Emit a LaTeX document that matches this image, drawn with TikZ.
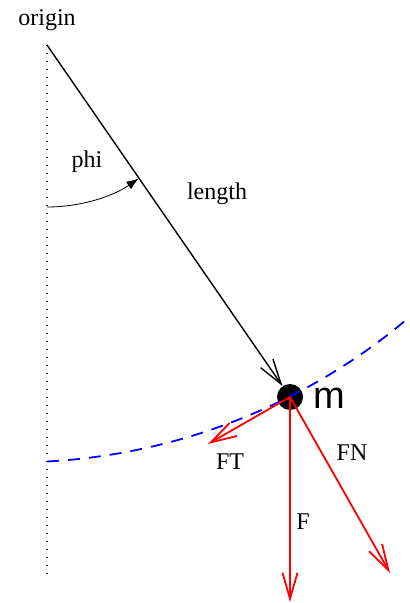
\documentclass[tikz,border=0pt]{standalone}
\usepackage{fontspec}
\setmainfont{Liberation Serif}
\newfontfamily\massfont{Liberation Sans}
\usepackage{tikz}
\usetikzlibrary{arrows.meta}

\begin{document}
\begin{tikzpicture}[
  x=0.5pt, y=-0.5pt,
  font=\fontsize{12}{14}\selectfont,
  label/.style={inner sep=0pt},
  rod/.style={-{Straight Barb[length=12.5pt, width=7.5pt]}, line width=0.7pt},
  force/.style={-{Straight Barb[length=13pt, width=7.5pt]}, red, line width=0.9pt},
  path/.style={blue, line width=0.9pt, dash pattern=on 6pt off 4.5pt},
  vertical/.style={line width=0.6pt, dash pattern=on 0.6pt off 3.4pt}
]
\useasboundingbox (0,0) rectangle (409,603);
% pivot and bob
\coordinate (o) at (47,45);
\coordinate (bottom) at (47,580);
\node[label] (origin) at (47,20) {origin};
\node[circle, fill, inner sep=0pt, minimum size=13pt] (m) at (290,397) {};
\node[label, font=\fontsize{19}{22}\massfont] (mlabel) at (329,398) {m};

\draw[vertical] (o) -- (bottom);
\draw[rod] (o) -- (m);
\node[label] (length) at (217,194) {length};

% angle
\node[label] (phi) at (87,162) {phi};
\draw[-{Latex[length=6pt, width=4.5pt]}, line width=0.4pt] (o) ++(0,162) arc[start angle=90, end angle=55.6, radius=162];

% path of the bob
\draw[path] (47,461.5) arc[start angle=86.9, end angle=49.8, radius=611];

% forces
\coordinate (ft) at (208,444);
\coordinate (fn) at (390,573);
\coordinate (f) at (290,602);
\draw[force] (m.center) -- (ft);
\draw[force] (m.center) -- (fn);
\draw[force] (m.center) -- (f);
\node[label] (ftlabel) at (230,462) {FT};
\node[label] (fnlabel) at (352,453) {FN};
\node[label] (flabel) at (303,522) {F};
\end{tikzpicture}
\end{document}
